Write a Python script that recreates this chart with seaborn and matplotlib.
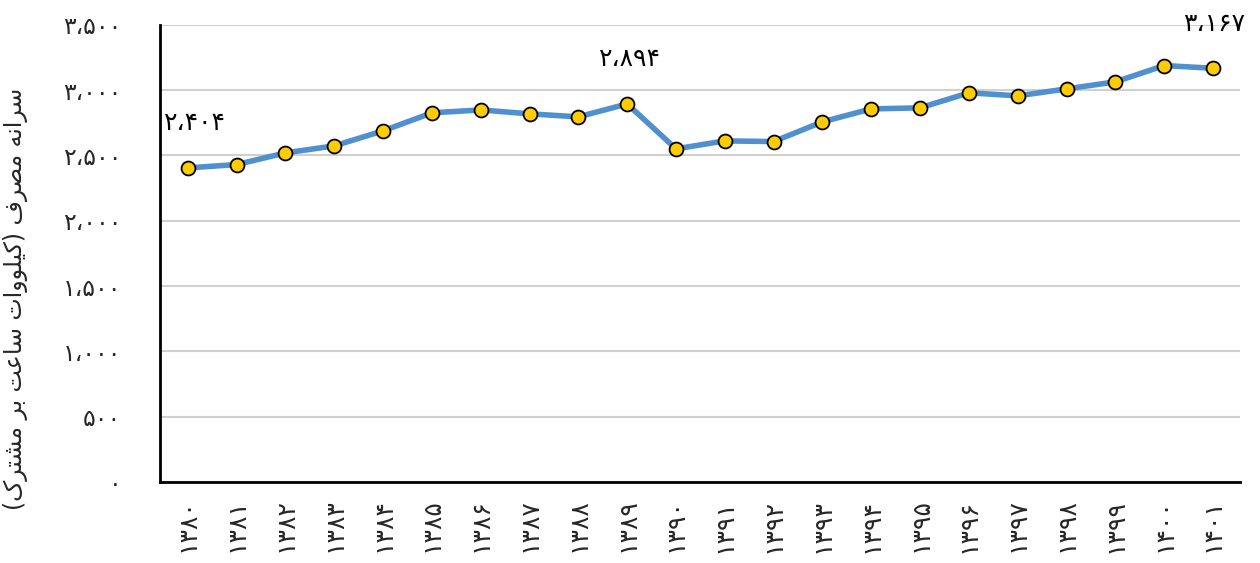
import numpy as np
import pandas as pd
import matplotlib
matplotlib.use("Agg")
import matplotlib.pyplot as plt
import seaborn as sns

# data
years = list(range(1380, 1402))
usage = [2404, 2430, 2519, 2573, 2688, 2826, 2848, 2818, 2795, 2894, 2550,
         2611, 2606, 2757, 2856, 2864, 2979, 2956, 3009, 3063, 3188, 3167]
labeled_years = [1380, 1389, 1401]
y_ticks = [0, 500, 1000, 1500, 2000, 2500, 3000, 3500]
y_label = "سرانه مصرف (کیلووات ساعت بر مشترک)"

FA_DIGITS = "۰۱۲۳۴۵۶۷۸۹"


def fa_num(n, sep=True):
    s = f"{n:,}" if sep else str(n)
    s = s.replace(",", "،")
    return "".join(FA_DIGITS[int(c)] if c.isdigit() else c for c in s)


# matplotlib does no arabic shaping, so do it by hand with presentation forms
# char: (isolated, final, initial, medial)
FORMS = {
    "ا": ("\uFE8D", "\uFE8E", None, None),
    "ب": ("\uFE8F", "\uFE90", "\uFE91", "\uFE92"),
    "ت": ("\uFE95", "\uFE96", "\uFE97", "\uFE98"),
    "ر": ("\uFEAD", "\uFEAE", None, None),
    "س": ("\uFEB1", "\uFEB2", "\uFEB3", "\uFEB4"),
    "ش": ("\uFEB5", "\uFEB6", "\uFEB7", "\uFEB8"),
    "ص": ("\uFEB9", "\uFEBA", "\uFEBB", "\uFEBC"),
    "ع": ("\uFEC9", "\uFECA", "\uFECB", "\uFECC"),
    "ف": ("\uFED1", "\uFED2", "\uFED3", "\uFED4"),
    "ل": ("\uFEDD", "\uFEDE", "\uFEDF", "\uFEE0"),
    "م": ("\uFEE1", "\uFEE2", "\uFEE3", "\uFEE4"),
    "ن": ("\uFEE5", "\uFEE6", "\uFEE7", "\uFEE8"),
    "ه": ("\uFEE9", "\uFEEA", "\uFEEB", "\uFEEC"),
    "و": ("\uFEED", "\uFEEE", None, None),
    "ک": ("\uFB8E", "\uFB8F", "\uFB90", "\uFB91"),
    "ی": ("\uFBFC", "\uFBFD", "\uFBFE", "\uFBFF"),
}


def shape_rtl(text):
    out = []
    for i, ch in enumerate(text):
        if ch not in FORMS:
            out.append(ch)
            continue
        prev = text[i - 1] if i > 0 else ""
        nxt = text[i + 1] if i + 1 < len(text) else ""
        joins_prev = prev in FORMS and FORMS[prev][2] is not None
        joins_next = FORMS[ch][2] is not None and nxt in FORMS
        iso, fin, ini, med = FORMS[ch]
        if joins_prev and joins_next:
            out.append(med)
        elif joins_prev:
            out.append(fin)
        elif joins_next:
            out.append(ini)
        else:
            out.append(iso)
    vis = "".join(out)[::-1]
    return vis.translate(str.maketrans("()", ")("))


df = pd.DataFrame({"year": years, "usage": usage})

sns.set_style("white")
plt.rcParams["font.family"] = ["DejaVu Sans"]

fig, ax = plt.subplots(figsize=(12.6, 5.63), dpi=100)
fig.subplots_adjust(left=0.127, right=0.984, bottom=0.144, top=0.956)

sns.lineplot(data=df, x="year", y="usage", ax=ax, color="#5090CF", linewidth=4,
             marker="o", markersize=10, markerfacecolor="#FFCC00",
             markeredgecolor="black", markeredgewidth=1.3, zorder=3)

for yr, dx in zip(labeled_years, [5, 2, 1]):
    val = df.loc[df.year == yr, "usage"].iloc[0]
    ax.annotate(fa_num(val), (yr, val), xytext=(dx, 32), textcoords="offset points",
                ha="center", va="center", fontsize=18, color="black",
                annotation_clip=False)

ax.set_ylim(0, 3500)
ax.set_xlim(years[0] - 0.57, years[-1] + 0.55)
ax.set_yticks(y_ticks)
ax.set_yticklabels([fa_num(v) for v in y_ticks], fontsize=17)
ax.set_xticks(years)
ax.set_xticklabels([fa_num(y, sep=False) for y in years], rotation=90, fontsize=18)
ax.tick_params(axis="y", length=0, pad=28)
ax.tick_params(axis="x", length=0, pad=12)

ax.yaxis.grid(True, color="#D0D0D0", linewidth=1.5)
ax.set_axisbelow(True)
for s in ["top", "right"]:
    ax.spines[s].set_visible(False)
for s in ["left", "bottom"]:
    ax.spines[s].set_color("black")
    ax.spines[s].set_linewidth(2)

ax.set_xlabel("")
ax.set_ylabel(shape_rtl(y_label), fontsize=17)
ax.yaxis.set_label_coords(-0.122, 0.40)

fig.savefig("out.png", dpi=100)
